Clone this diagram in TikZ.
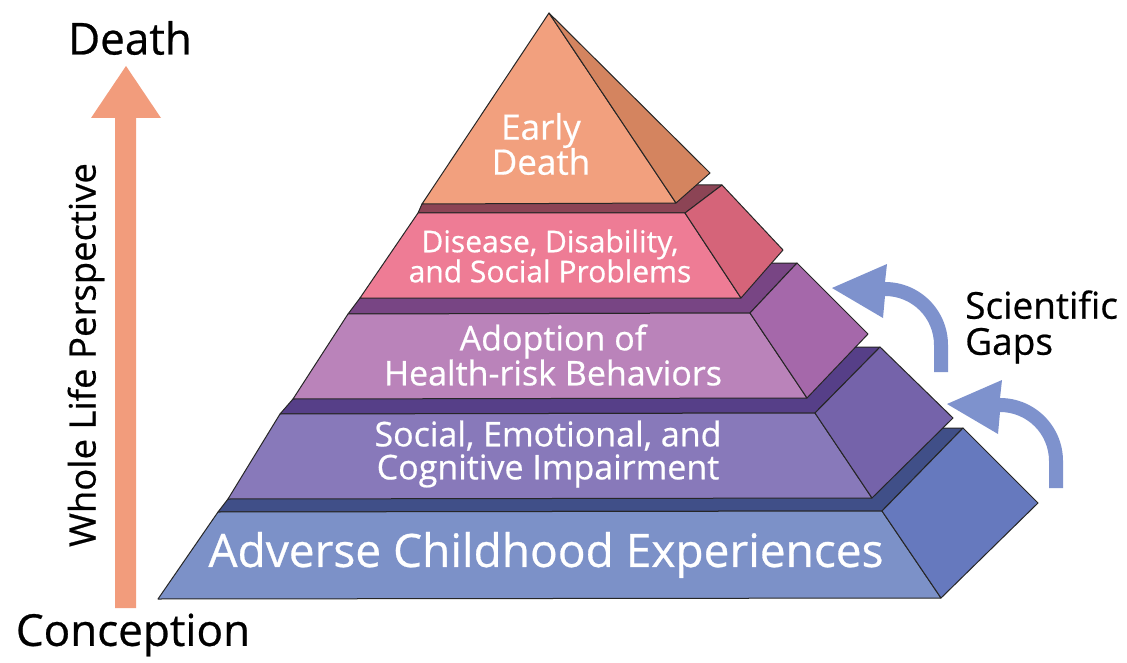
\documentclass[tikz,border=0pt]{standalone}
\usepackage{fontspec}
\setmainfont{Open Sans}[FakeBold=0.6]
\definecolor{edfront}{HTML}{F2A07E}
\definecolor{edside}{HTML}{D4845F}
\definecolor{dstrip}{HTML}{8C4455}
\definecolor{dfront}{HTML}{EE7C95}
\definecolor{dside}{HTML}{D56479}
\definecolor{astrip}{HTML}{784584}
\definecolor{afront}{HTML}{BA83BA}
\definecolor{aside}{HTML}{A568AA}
\definecolor{sstrip}{HTML}{563F88}
\definecolor{sfront}{HTML}{8879BA}
\definecolor{sside}{HTML}{7563AA}
\definecolor{bstrip}{HTML}{404F88}
\definecolor{bfront}{HTML}{7C91C8}
\definecolor{bside}{HTML}{6679BE}
\definecolor{lifearrow}{HTML}{F29C7C}
\definecolor{gapblue}{HTML}{7E92CD}
\tikzset{
  face/.style={draw=black!85, line width=1pt, line join=round},
  laytext/.style={text=white, align=center, inner sep=0pt},
  sidetext/.style={text=black, inner sep=0pt},
  gaparrow/.pic={
    \fill[gapblue] (948,372) -- (948,345) .. controls (948,310.2) and (919.8,282) .. (885,282)
      -- (887,264) -- (832,288) -- (883,318) -- (885,296)
      .. controls (912.1,296) and (934,317.9) .. (934,345) -- (934,372) -- cycle;
  }
}
\begin{document}
\begin{tikzpicture}[x=1pt,y=-1pt]
\fill[white] (0,0) rectangle (1127,663);
\useasboundingbox (0,0) rectangle (1127,663);

% life arrow
\fill[lifearrow] (115,608) -- (115,118) -- (91,118) -- (126,66) -- (161,118) -- (136,118) -- (136,608) -- cycle;
\node[sidetext, font=\fontsize{44}{50}\selectfont] (death) at (130,38) {Death};
\node[sidetext, font=\fontsize{44}{50}\selectfont] (conception) at (133,635) {Conception};
\node[sidetext, rotate=90, font=\fontsize{36.5}{40}\selectfont] (wlp) at (86,355) {Whole Life Perspective};

% base layer
\path[face, fill=bstrip] (218,512) -- (882,511) -- (963,428) -- (600,428) -- (228,499) -- cycle;
\path[face, fill=bfront] (218,512) -- (882,511) -- (941,598) -- (158,599) -- cycle;
\path[face, fill=bside] (882,511) -- (963,428) -- (1038,503) -- (941,598) -- cycle;

% social layer
\path[face, fill=sstrip] (280,414) -- (815,413) -- (880,347) -- (600,347) -- (293,399) -- cycle;
\path[face, fill=sfront] (280,414) -- (815,413) -- (872,498) -- (228,499) -- cycle;
\path[face, fill=sside] (815,413) -- (880,347) -- (953,418) -- (872,498) -- cycle;

% adoption layer
\path[face, fill=astrip] (348,314) -- (750,313) -- (797,263) -- (600,263) -- (360,298) -- cycle;
\path[face, fill=afront] (348,314) -- (750,313) -- (807,398) -- (293,399) -- cycle;
\path[face, fill=aside] (750,313) -- (797,263) -- (868,334) -- (807,398) -- cycle;

% disease layer
\path[face, fill=dstrip] (418,213) -- (685,213) -- (722,185) -- (480,185) -- (422,204) -- cycle;
\path[face, fill=dfront] (418,213) -- (685,213) -- (741,298) -- (360,298) -- cycle;
\path[face, fill=dside] (685,213) -- (722,185) -- (783,250) -- (741,298) -- cycle;

% early death
\path[face, fill=edfront] (549,13) -- (422,204) -- (676,203) -- cycle;
\path[face, fill=edside] (549,13) -- (676,203) -- (710,173) -- cycle;

% layer texts
\node[laytext, font=\fontsize{35}{35}\selectfont] (early) at (541,144) {Early\\Death};
\node[laytext, font=\fontsize{30}{30}\selectfont] (disease) at (550,256) {Disease, Disability,\\and Social Problems};
\node[laytext, font=\fontsize{34}{33}\selectfont] (adoption) at (553,355) {Adoption of\\Health-risk Behaviors};
\node[laytext, font=\fontsize{34}{33}\selectfont] (social) at (548,454) {Social, Emotional, and\\Cognitive Impairment};
\node[laytext, font=\fontsize{46}{46}\selectfont] (ace) at (546,555) {Adverse Childhood Experiences};

% scientific gaps
\pic at (0,0) {gaparrow};
\pic at (115,116) {gaparrow};
\node[sidetext, anchor=west, align=left, font=\fontsize{37}{36}\selectfont] (gaps) at (965,327) {Scientific\\Gaps};
\end{tikzpicture}
\end{document}
